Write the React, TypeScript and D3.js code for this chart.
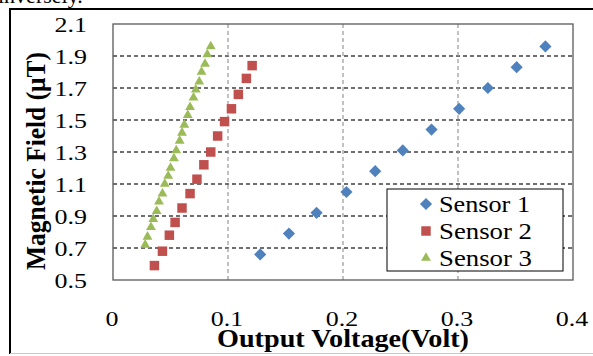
import React from 'react';
import * as d3 from 'd3';

// axis ticks
const xTicks = [0, 0.1, 0.2, 0.3, 0.4];
const yTicks = [0.5, 0.7, 0.9, 1.1, 1.3, 1.5, 1.7, 1.9, 2.1];
const seriesNames = ['Sensor 1', 'Sensor 2', 'Sensor 3'];

// Sensor 1 (blue diamonds)
const sensor1X = [0.128, 0.153, 0.177, 0.203, 0.228, 0.252, 0.277, 0.301, 0.326, 0.351, 0.376];
const sensor1Y = [0.66, 0.79, 0.92, 1.05, 1.18, 1.31, 1.44, 1.57, 1.70, 1.83, 1.96];

// Sensor 2 (red squares)
const sensor2X = [0.036, 0.043, 0.049, 0.054, 0.060, 0.067, 0.073, 0.079, 0.085, 0.091, 0.097, 0.103, 0.109, 0.116, 0.121];
const sensor2Y = [0.59, 0.68, 0.78, 0.86, 0.95, 1.04, 1.13, 1.22, 1.30, 1.40, 1.49, 1.57, 1.66, 1.76, 1.84];

// Sensor 3 (green triangles)
const sensor3X = [0.028, 0.030, 0.033, 0.035, 0.038, 0.040, 0.043, 0.045, 0.048, 0.050, 0.053, 0.055,
  0.058, 0.060, 0.062, 0.065, 0.067, 0.070, 0.072, 0.075, 0.077, 0.080, 0.082, 0.085];
const sensor3Y = [0.72, 0.77, 0.83, 0.88, 0.93, 0.99, 1.04, 1.10, 1.15, 1.20, 1.26, 1.31,
  1.37, 1.42, 1.47, 1.53, 1.58, 1.64, 1.69, 1.74, 1.80, 1.85, 1.91, 1.96];

const W = 593;
const H = 356;
const plot = { left: 113, right: 573, top: 24, bottom: 280 };

const x = d3.scaleLinear().domain([0, 0.4]).range([plot.left, plot.right]);
const y = d3.scaleLinear().domain([0.5, 2.1]).range([plot.bottom, plot.top]);

const colors = ['#4F81BD', '#C0504D', '#9BBB59'];

const diamond = d3.symbol().type(d3.symbolSquare).size(74)();
const square = d3.symbol().type(d3.symbolSquare).size(90)();
const triangle = d3.symbol().type(d3.symbolTriangle).size(42)();

const serif = "'Liberation Serif', 'Times New Roman', serif";

const Marker = ({ i, cx, cy }: { i: number; cx: number; cy: number }) => {
  if (i === 0) return <path d={diamond!} fill={colors[0]} transform={`translate(${cx},${cy}) rotate(45)`} />;
  if (i === 1) return <path d={square!} fill={colors[1]} transform={`translate(${cx},${cy})`} />;
  return <path d={triangle!} fill={colors[2]} transform={`translate(${cx},${cy})`} />;
};

export default function App() {
  const series = [
    sensor1X.map((v, k) => [v, sensor1Y[k]]),
    sensor2X.map((v, k) => [v, sensor2Y[k]]),
    sensor3X.map((v, k) => [v, sensor3Y[k]]),
  ];

  return (
    <svg width={W} height={H} style={{ position: 'absolute', left: 0, top: 0, background: '#fff', fontFamily: serif }}>
      {/* bit of the paper text above the figure */}
      <text x={-2} y={3} fontFamily={serif} fontSize={22}>inversely.</text>

      {/* outer frame */}
      <line x1={10} y1={9} x2={W} y2={9} stroke="#000" strokeWidth={2} />
      <line x1={10} y1={8} x2={10} y2={354} stroke="#000" strokeWidth={2} />
      <line x1={10} y1={353.5} x2={W} y2={353.5} stroke="#c8c8c8" strokeWidth={1} />

      {/* grid */}
      {yTicks.slice(1, -1).map(t => (
        <line key={'gy' + t} x1={plot.left} x2={plot.right} y1={y(t)} y2={y(t)}
          stroke="#404040" strokeWidth={1.3} strokeDasharray="4,3" />
      ))}
      {xTicks.slice(1, -1).map(t => (
        <line key={'gx' + t} x1={x(t)} x2={x(t)} y1={plot.top} y2={plot.bottom}
          stroke="#a0a0a0" strokeWidth={1.3} strokeDasharray="4,3" />
      ))}
      <rect x={plot.left} y={plot.top} width={plot.right - plot.left} height={plot.bottom - plot.top}
        fill="none" stroke="#595959" strokeWidth={1.3} />

      {/* tick labels */}
      {yTicks.map(t => (
        <text key={'ty' + t} transform={`translate(87,${y(t) + 8}) scale(1.18,1)`} textAnchor="end"
          fontFamily={serif} fontSize={22} fill="#000">{t.toFixed(1)}</text>
      ))}
      {xTicks.map(t => (
        <text key={'tx' + t} transform={`translate(${x(t) - 1},326) scale(1.18,1)`} textAnchor="middle"
          fontFamily={serif} fontSize={22} fill="#000">{t === 0 ? '0' : t.toFixed(1)}</text>
      ))}

      {/* axis titles */}
      <text x={343} y={347} textAnchor="middle" fontFamily={serif} fontWeight="bold" fontSize={25}
        textLength={252} lengthAdjust="spacingAndGlyphs">Output Voltage(Volt)</text>
      <text transform="translate(45,161) rotate(-90)" textAnchor="middle" fontFamily={serif}
        fontWeight="bold" fontSize={27} textLength={218} lengthAdjust="spacingAndGlyphs">Magnetic Field (μT)</text>

      {/* points */}
      {series.map((pts, i) => (
        <g key={'s' + i}>
          {pts.map((p, k) => <Marker key={k} i={i} cx={x(p[0])} cy={y(p[1])} />)}
        </g>
      ))}

      {/* legend */}
      <rect x={387} y={189} width={176} height={82} fill="#fff" stroke="#000" strokeWidth={1} />
      {seriesNames.map((name, i) => (
        <g key={name}>
          <Marker i={i} cx={426} cy={204 + i * 27} />
          <text x={439} y={212 + i * 27} fontFamily={serif} fontSize={23}
            textLength={[91, 93, 93][i]} lengthAdjust="spacingAndGlyphs">{name}</text>
        </g>
      ))}
    </svg>
  );
}
